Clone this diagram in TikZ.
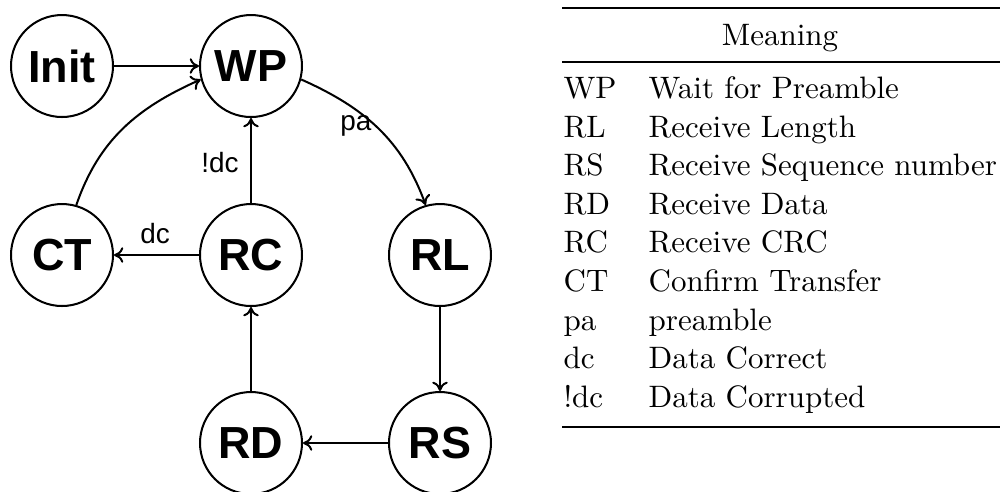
\documentclass[tikz,border=0pt]{standalone}
\usepackage{fontspec}
\newfontfamily\labfont{Liberation Sans}
\usetikzlibrary{arrows.meta}
\begin{document}
\begin{tikzpicture}[x=0.3226pt,y=-0.3226pt,
  state/.style={circle,draw,line width=0.65pt,minimum size=32.9pt,inner sep=0pt,
    font=\labfont\bfseries\fontsize{14.5}{16}\selectfont},
  trans/.style={line width=0.65pt,-{To[length=3pt,width=5pt]}},
  elabel/.style={font=\labfont\fontsize{9}{10}\selectfont,inner sep=0pt,anchor=base},
  cell/.style={font=\fontsize{10}{12}\selectfont,inner sep=0pt,anchor=base west},
  heavyrule/.style={line width=0.8pt},
  lightrule/.style={line width=0.5pt}]
\useasboundingbox (0,0) rectangle (1000,491);
\clip (0,0) rectangle (1000,491);
% states
\node[state] (Init) at (62,66) {Init};
\node[state] (WP) at (251,66) {WP};
\node[state] (CT) at (62,255) {CT};
\node[state] (RC) at (251,255) {RC};
\node[state] (RL) at (440,255) {RL};
\node[state] (RD) at (251,443) {RD};
\node[state] (RS) at (440,443) {RS};
% transitions
\draw[trans] (Init) -- (WP);
\draw[trans] (CT.74) to[out=71,in=204] (WP.195);
\draw[trans] (WP.-15) to[out=-24,in=110] (RL.106);
\draw[trans] (RL) -- (RS);
\draw[trans] (RS) -- (RD);
\draw[trans] (RD) -- (RC);
\draw[trans] (RC) -- (WP);
\draw[trans] (RC) -- (CT);
% transition labels
\node[elabel] (lpa) at (356,130) {pa};
\node[elabel] (lndc) at (220,172) {!dc};
\node[elabel] (ldc) at (155,243) {dc};
% table
\coordinate (tl) at (562,8);
\coordinate (tr) at (1000,8);
\coordinate (ml) at (562,62);
\coordinate (mr) at (1000,62);
\coordinate (bl) at (562,427);
\coordinate (br) at (1000,427);
\draw[heavyrule] (tl) -- (tr);
\draw[lightrule] (ml) -- (mr);
\draw[heavyrule] (bl) -- (br);
\node[cell,anchor=base] (hdr) at (780,45) {Meaning};
\node[cell] (a1) at (563,98.5) {WP};  \node[cell] (b1) at (648,98.5) {Wait for Preamble};
\node[cell] (a2) at (563,137.1) {RL}; \node[cell] (b2) at (648,137.1) {Receive Length};
\node[cell] (a3) at (563,175.7) {RS}; \node[cell] (b3) at (648,175.7) {Receive Sequence number};
\node[cell] (a4) at (563,214.3) {RD}; \node[cell] (b4) at (648,214.3) {Receive Data};
\node[cell] (a5) at (563,252.9) {RC}; \node[cell] (b5) at (648,252.9) {Receive CRC};
\node[cell] (a6) at (563,291.5) {CT}; \node[cell] (b6) at (648,291.5) {Confirm Transfer};
\node[cell] (a7) at (563,330.1) {pa}; \node[cell] (b7) at (648,330.1) {preamble};
\node[cell] (a8) at (563,368.7) {dc}; \node[cell] (b8) at (648,368.7) {Data Correct};
\node[cell] (a9) at (563,407.3) {!dc}; \node[cell] (b9) at (648,407.3) {Data Corrupted};
\end{tikzpicture}
\end{document}
